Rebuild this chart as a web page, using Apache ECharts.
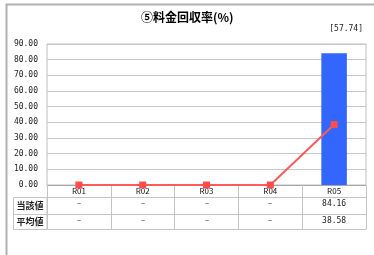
<!DOCTYPE html>
<html>
<head>
<meta charset="utf-8">
<script src="https://cdn.jsdelivr.net/npm/echarts@6/dist/echarts.min.js"></script>
<style>html,body{margin:0;padding:0;background:#fff;}#c{width:374px;height:255px;}</style>
</head>
<body>
<div id="c"></div>
<script>
const titleText = '⑤料金回収率(%)';
const noteText = '[57.74]';
const categories = ['R01', 'R02', 'R03', 'R04', 'R05'];
const currentValues = [null, null, null, null, 84.16];
const averageValues = [null, null, null, null, 38.58];
const rowLabels = ['当該値', '平均値'];
const yTicks = { min: 0, max: 90, interval: 10 };

const FONT = '"Noto Sans CJK JP", "DejaVu Sans", sans-serif';
const MONO = '"DejaVu Sans Mono", "Liberation Mono", monospace';
const GRID = { left: 47, right: 8, top: 44, bottom: 70 };
const lineColor = '#c4c4c4';
const fmt = v => (v === null || v === undefined || v === '') ? '－' : Number(v).toFixed(2);

const chart = echarts.init(document.getElementById('c'), null, { renderer: 'canvas' });

const tableAxis = (vals, offset, tickLen) => ({
  type: 'category',
  position: 'bottom',
  offset: offset,
  data: vals.map(v => fmt(v)),
  boundaryGap: true,
  axisLine: { show: true, lineStyle: { color: lineColor, width: 1 } },
  axisTick: { show: true, inside: false, length: tickLen, lineStyle: { color: lineColor, width: 1 } },
  axisLabel: { margin: 3, fontSize: 8, color: '#222', fontFamily: MONO, interval: 0 },
  splitLine: { show: false }
});

const x0 = GRID.left, x1 = 374 - GRID.right, yAxisBottom = 255 - GRID.bottom;

chart.setOption({
  animation: false,
  title: {
    text: titleText, left: 136, top: 6,
    textStyle: { fontSize: 12, fontWeight: 'bold', color: '#000', fontFamily: FONT }
  },
  grid: { left: GRID.left, right: GRID.right, top: GRID.top, bottom: GRID.bottom, show: true, borderColor: '#bdbdbd', borderWidth: 1 },
  xAxis: [
    {
      type: 'category', data: categories, boundaryGap: true,
      axisLine: { show: true, lineStyle: { color: '#a8a8a8', width: 1 } },
      axisTick: { show: true, length: 12, lineStyle: { color: lineColor } },
      axisLabel: { margin: 2, fontSize: 8, color: '#111', fontFamily: FONT, interval: 0 },
      splitLine: { show: false }
    },
    tableAxis(currentValues, 12, 17),
    tableAxis(averageValues, 29, 15),
    {
      type: 'category', position: 'bottom', offset: 44, data: categories.map(() => ''),
      axisLine: { show: true, lineStyle: { color: lineColor } },
      axisTick: { show: false }, axisLabel: { show: false }
    }
  ],
  yAxis: {
    type: 'value', min: yTicks.min, max: yTicks.max, interval: yTicks.interval,
    axisLine: { show: false }, axisTick: { show: false },
    axisLabel: { margin: 9, fontSize: 8, color: '#222', fontFamily: MONO, formatter: v => v.toFixed(2) },
    splitLine: { show: true, lineStyle: { color: '#c8c8c8', width: 1 } }
  },
  series: [
    {
      type: 'bar', data: currentValues, barWidth: '40%',
      itemStyle: { color: '#3366ff' }, z: 2
    },
    {
      type: 'line', data: averageValues.map(v => v === null ? 0 : v),
      symbol: 'rect', symbolSize: 7,
      lineStyle: { color: '#ff5a5a', width: 2 },
      itemStyle: { color: '#ff4d4d' }, z: 3
    }
  ],
  graphic: [
    { type: 'rect', shape: { x: 6.5, y: 4.5, width: 420, height: 300 }, style: { fill: null, stroke: '#b0b0b0', lineWidth: 2 }, silent: true },
    { type: 'text', style: { text: noteText, x: 363, y: 29, align: 'right', verticalAlign: 'middle', fontSize: 8, fontFamily: MONO, fill: '#222' } },
    { type: 'rect', shape: { x: 13.5, y: yAxisBottom + 12.5, width: x0 - 13.5, height: 32 }, style: { fill: null, stroke: lineColor, lineWidth: 1 } },
    { type: 'line', shape: { x1: 13.5, y1: yAxisBottom + 29.5, x2: x0, y2: yAxisBottom + 29.5 }, style: { stroke: lineColor, lineWidth: 1 } },
    { type: 'text', style: { text: rowLabels[0], x: 30, y: yAxisBottom + 21, align: 'center', verticalAlign: 'middle', fontSize: 9, fontWeight: 'bold', fontFamily: FONT, fill: '#222' } },
    { type: 'text', style: { text: rowLabels[1], x: 30, y: yAxisBottom + 37, align: 'center', verticalAlign: 'middle', fontSize: 9, fontWeight: 'bold', fontFamily: FONT, fill: '#222' } }
  ]
});
</script>
</body>
</html>
